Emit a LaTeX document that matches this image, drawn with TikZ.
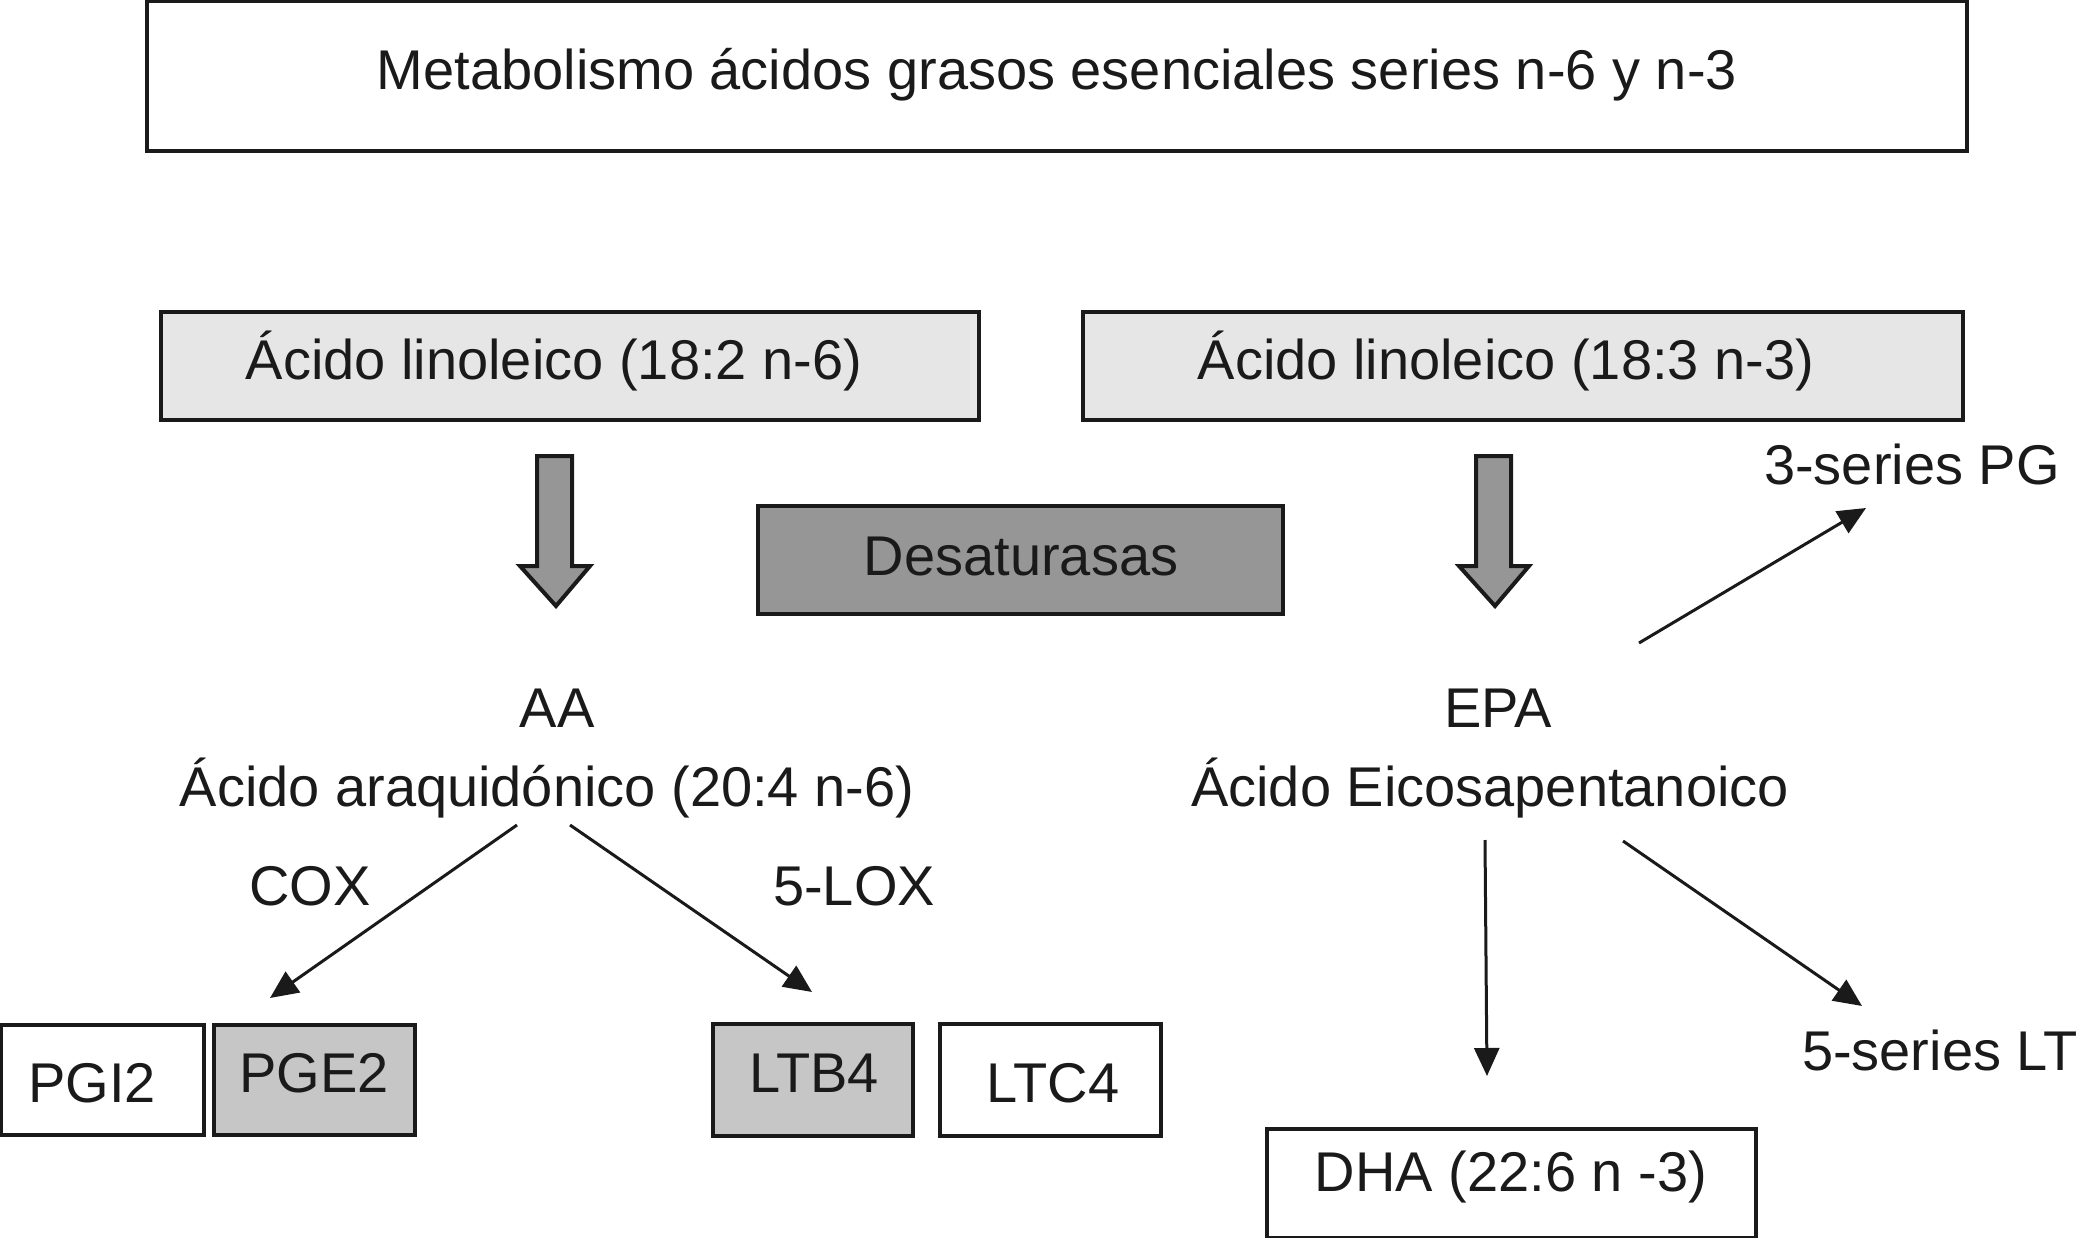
\documentclass[tikz,border=0pt]{standalone}
\usepackage{fontspec}
\setmainfont{Liberation Sans}
\usetikzlibrary{arrows.meta}
\definecolor{ink}{HTML}{1A1A1A}
\definecolor{lightfill}{HTML}{E6E6E6}
\definecolor{midfill}{HTML}{C6C6C6}
\definecolor{darkfill}{HTML}{969696}
\begin{document}
\begin{tikzpicture}[x=1pt,y=-1pt,
  lbl/.style={inner sep=0pt, text height=40pt, text depth=0pt, text=ink, font=\fontsize{56}{64}\selectfont},
  boxnode/.style={draw=ink, line width=4pt, inner sep=0pt},
  thinarrow/.style={draw=ink, line width=3pt, -{Triangle[length=28pt,width=25pt]}},
  fatarrow/.style={draw=ink, line width=4pt, fill=darkfill, line join=miter}
]
\useasboundingbox (0,0) rectangle (2083,1238);
% title
\node[boxnode, fill=white, minimum width=1820pt, minimum height=150pt] (title) at (1057,76) {};
\node[lbl] (titletxt) at (1057,70) {Metabolismo ácidos grasos esenciales series n-6 y n-3};
% linoleic boxes
\node[boxnode, fill=lightfill, minimum width=818pt, minimum height=108pt] (lin6) at (570,366) {};
\node[lbl] (lin6txt) at (554,360) {Ácido linoleico (18:2 n-6)};
\node[boxnode, fill=lightfill, minimum width=880pt, minimum height=108pt] (lin3) at (1523,366) {};
\node[lbl] (lin3txt) at (1506,360) {Ácido linoleico (18:3 n-3)};
% fat arrows
\path[fatarrow] (537,456) -- (572,456) -- (572,566) -- (590,566) -- (556,606) -- (520,566) -- (537,566) -- cycle;
\path[fatarrow] (1476,456) -- (1511,456) -- (1511,566) -- (1529,566) -- (1495,606) -- (1459,566) -- (1476,566) -- cycle;
% desaturasas
\node[boxnode, fill=darkfill, minimum width=525pt, minimum height=108pt] (des) at (1020,560) {};
\node[lbl] (destxt) at (1021,555) {Desaturasas};
% AA / EPA
\node[lbl] (aa) at (557,707) {AA};
\node[lbl] (aafull) at (547,786) {Ácido araquidónico (20:4 n-6)};
\node[lbl] (epa) at (1498,707) {EPA};
\node[lbl] (epafull) at (1490,786) {Ácido Eicosapentanoico};
% enzyme labels
\node[lbl] (cox) at (310,885) {COX};
\node[lbl] (lox) at (854,885) {5-LOX};
% products
\node[boxnode, fill=white, minimum width=203pt, minimum height=110pt] (pgi2) at (102,1080) {};
\node[lbl] (pgi2txt) at (92,1082) {PGI2};
\node[boxnode, fill=midfill, minimum width=201pt, minimum height=110pt] (pge2) at (314,1080) {};
\node[lbl] (pge2txt) at (314,1072) {PGE2};
\node[boxnode, fill=midfill, minimum width=200pt, minimum height=112pt] (ltb4) at (813,1080) {};
\node[lbl] (ltb4txt) at (814,1072) {LTB4};
\node[boxnode, fill=white, minimum width=221pt, minimum height=112pt] (ltc4) at (1050,1080) {};
\node[lbl] (ltc4txt) at (1053,1082) {LTC4};
\node[boxnode, fill=white, minimum width=489pt, minimum height=109pt] (dha) at (1511,1183) {};
\node[lbl] (dhatxt) at (1511,1171) {DHA (22:6 n -3)};
\node[lbl] (pg3) at (1912,464) {3-series PG};
\node[lbl] (lt5) at (1940,1050) {5-series LT};
% arrow endpoints
\coordinate (coxs) at (517,825);
\coordinate (coxe) at (270,998);
\coordinate (loxs) at (570,825);
\coordinate (loxe) at (812,992);
\coordinate (dhas) at (1485,840);
\coordinate (dhae) at (1487,1076);
\coordinate (lts) at (1623,841);
\coordinate (lte) at (1862,1006);
\coordinate (pgs) at (1639,643);
\coordinate (pge) at (1866,508);
\draw[thinarrow] (coxs) -- (coxe);
\draw[thinarrow] (loxs) -- (loxe);
\draw[thinarrow] (dhas) -- (dhae);
\draw[thinarrow] (lts) -- (lte);
\draw[thinarrow] (pgs) -- (pge);
\end{tikzpicture}
\end{document}
